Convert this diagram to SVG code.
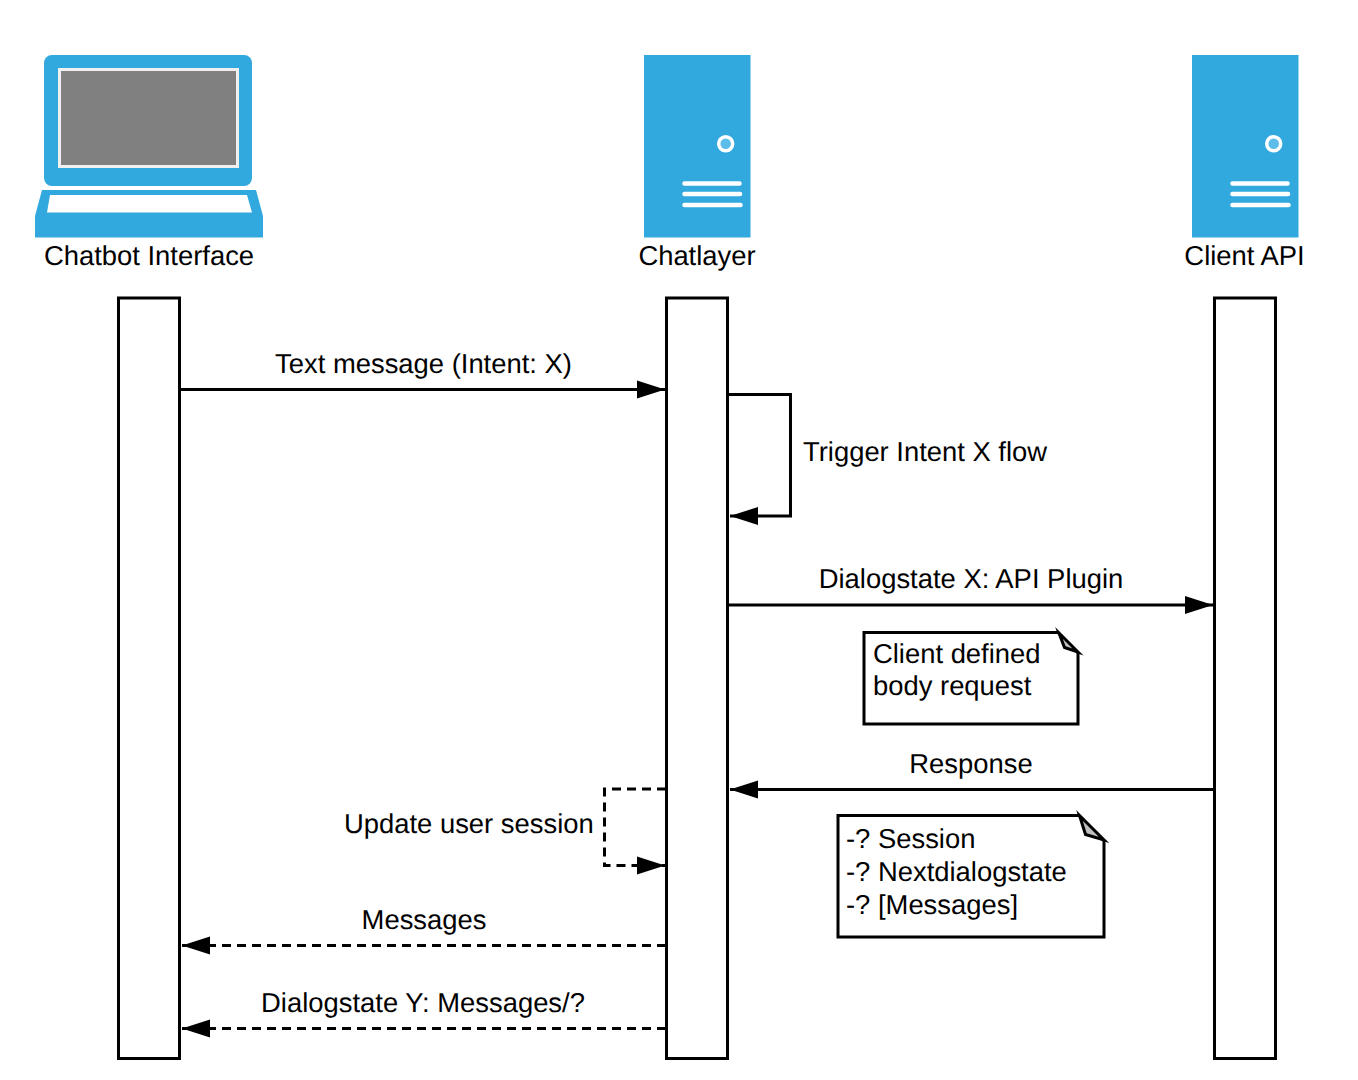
<svg xmlns="http://www.w3.org/2000/svg" width="1358" height="1080" viewBox="0 0 1358 1080">
<style>
text{font-family:"Liberation Sans",Arial,sans-serif;font-size:27.4px;fill:#000;text-rendering:geometricPrecision}
.m{text-anchor:middle}
.life{fill:#fff;stroke:#000;stroke-width:3}
.blue{fill:#32a9de}
.w{fill:#fff}
.bar{stroke:#fff;stroke-width:4.5;stroke-linecap:round;fill:none}
.c{fill:none;stroke:#000;stroke-width:3}
.d{stroke-dasharray:9 6}
.note{fill:#fff;stroke:#000;stroke-width:3}
.fold{fill:#c0c0c0;stroke:#000;stroke-width:3;stroke-miterlimit:12}
</style>
<defs>
<marker id="a" markerUnits="userSpaceOnUse" markerWidth="30" markerHeight="20" refX="28" refY="10" orient="auto">
<path d="M0 1 L28 10 L0 19 Z" fill="#000"/>
</marker>
</defs>
<g id="chatbot-interface">
<rect class="blue" x="44" y="55" width="208" height="131" rx="8"/>
<rect x="59.500" y="69.500" width="178" height="97" fill="#808080" stroke="#f0f0f0" stroke-width="3"/>
<path class="blue" d="M42 190 L256 190 L263 216 L263 237.500 L35 237.500 L35 216 Z"/>
<path class="w" d="M50 195 L247 195 L252 212.500 L47 212.500 Z"/>
<text class="m" x="149" y="265">Chatbot Interface</text>
<rect class="life" x="118.500" y="298" width="61" height="760.500"/>
</g>
<g id="chatlayer">
<rect class="blue" x="644" y="55" width="106.500" height="182.500"/>
<circle cx="725.700" cy="143.700" r="7" fill="#5cbcea" stroke="#fff" stroke-width="3.500"/>
<path class="bar" d="M684.500 183.500H739.500M684.500 194H740M684.500 205H740.500"/>
<text class="m" x="697" y="265">Chatlayer</text>
<rect class="life" x="666.500" y="298" width="61" height="760.500"/>
</g>
<g id="client-api">
<rect class="blue" x="1192" y="55" width="106.500" height="182.500"/>
<circle cx="1273.700" cy="143.700" r="7" fill="#5cbcea" stroke="#fff" stroke-width="3.500"/>
<path class="bar" d="M1232.500 183.500H1287.500M1232.500 194H1288M1232.500 205H1288.500"/>
<text class="m" x="1244.500" y="265">Client API</text>
<rect class="life" x="1214.500" y="298" width="61" height="760.500"/>
</g>
<g id="note-body-request">
<path class="note" d="M864 632.500H1058L1078 653V724H864Z"/>
<path class="fold" d="M1059 633L1078 652L1064.500 647.500Z"/>
<text x="873" y="663">Client defined</text>
<text x="873" y="695">body request</text>
</g>
<g id="note-response">
<path class="note" d="M838 815.500H1079L1104 841V937H838Z"/>
<path class="fold" d="M1079.500 815.500L1104 840L1085.500 834.500Z"/>
<text x="846" y="848">-? Session</text>
<text x="846" y="881">-? Nextdialogstate</text>
<text x="846" y="914">-? [Messages]</text>
</g>
<g id="connectors">
<path class="c" marker-end="url(#a)" d="M180 389.500H665"/>
<path class="c" marker-end="url(#a)" d="M728 394.500H790.500V516H730"/>
<path class="c" marker-end="url(#a)" d="M728 605H1213"/>
<path class="c" marker-end="url(#a)" d="M1214 789.500H730"/>
<path class="c d" marker-end="url(#a)" d="M666 789H604.500V865.500H665"/>
<path class="c d" marker-end="url(#a)" d="M666 945.500H182"/>
<path class="c d" marker-end="url(#a)" d="M666 1028.500H182"/>
</g>
<g id="labels">
<text class="m" x="423.500" y="373">Text message (Intent: X)</text>
<text x="803" y="461">Trigger Intent X flow</text>
<text class="m" x="971" y="588">Dialogstate X: API Plugin</text>
<text class="m" x="971" y="773">Response</text>
<text x="344" y="833">Update user session</text>
<text class="m" x="424" y="929">Messages</text>
<text class="m" x="423" y="1012">Dialogstate Y: Messages/?</text>
</g>
</svg>
